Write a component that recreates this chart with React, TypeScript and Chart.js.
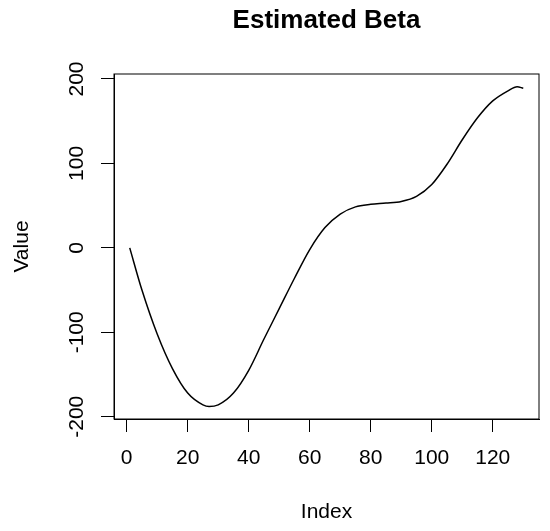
import React, { useEffect, useRef } from "react";
import { Chart, registerables } from "chart.js";

Chart.register(...registerables);

const TITLE = "Estimated Beta";
const X_LABEL = "Index";
const Y_LABEL = "Value";

const indices = [1, 5, 10, 15, 20, 25, 27, 30, 35, 40, 45, 50, 55, 60, 65, 70, 75, 80, 85, 90, 95, 100, 105, 110, 115, 120, 125, 128, 130];
const values = [0, -50, -102, -143, -172, -186, -188, -186, -172, -145, -108, -72, -36, -2, 24, 40, 48.5, 51.5, 53, 55, 61, 75, 99, 128, 154, 174, 186, 190.8, 189];

const xTicks = [0, 20, 40, 60, 80, 100, 120];
const yTicks = [-200, -100, 0, 100, 200];

const FONT = "'Liberation Sans', Arial, Helvetica, sans-serif";

export default function App() {
  const canvasRef = useRef<HTMLCanvasElement | null>(null);

  useEffect(() => {
    const canvas = canvasRef.current;
    if (!canvas) return;

    const overlay = {
      id: "rOverlay",
      afterDraw(chart: any) {
        const { ctx, chartArea } = chart;
        ctx.save();
        ctx.strokeStyle = "#000";
        ctx.lineWidth = 1;
        ctx.strokeRect(chartArea.left, chartArea.top, chartArea.right - chartArea.left, chartArea.bottom - chartArea.top);
        // title
        ctx.fillStyle = "#000";
        ctx.font = `bold 26px ${FONT}`;
        ctx.textAlign = "center";
        ctx.textBaseline = "middle";
        ctx.fillText(TITLE, (chartArea.left + chartArea.right) / 2, 21);
        // rotated y tick labels
        const ys = chart.scales.y;
        ctx.font = `21px ${FONT}`;
        for (const v of yTicks) {
          const py = ys.getPixelForValue(v);
          ctx.save();
          ctx.translate(77, py);
          ctx.rotate(-Math.PI / 2);
          ctx.fillText(String(v), 0, 0);
          ctx.restore();
        }
        ctx.restore();
      },
    };

    const chart = new Chart(canvas, {
      type: "line",
      data: {
        datasets: [
          {
            data: indices.map((x, i) => ({ x, y: values[i] })),
            borderColor: "#000",
            borderWidth: 1.5,
            pointRadius: 0,
            fill: false,
            cubicInterpolationMode: "monotone",
          },
        ],
      },
      options: {
        animation: false,
        responsive: false,
        devicePixelRatio: 1,
        layout: { padding: { top: 74, right: 11, left: 0, bottom: 0 } },
        plugins: { legend: { display: false }, tooltip: { enabled: false }, title: { display: false } },
        scales: {
          x: {
            type: "linear",
            position: "bottom",
            min: -4.16,
            max: 135.16,
            afterBuildTicks: (scale: any) => {
              scale.ticks = xTicks.map((v) => ({ value: v }));
            },
            afterFit: (scale: any) => {
              scale.height = 112;
            },
            ticks: {
              color: "#000",
              font: { family: FONT, size: 21 },
              padding: 14,
              maxRotation: 0,
              minRotation: 0,
              autoSkip: false,
            },
            grid: { display: true, drawOnChartArea: false, drawTicks: true, tickLength: 13, color: "#000", lineWidth: 1 },
            border: { display: true, color: "#000", width: 1 },
            title: { display: true, text: X_LABEL, color: "#000", font: { family: FONT, size: 21 }, padding: { top: 0, bottom: 6 } },
          },
          y: {
            type: "linear",
            min: -202.7,
            max: 205.9,
            afterBuildTicks: (scale: any) => {
              scale.ticks = yTicks.map((v) => ({ value: v }));
            },
            afterFit: (scale: any) => {
              scale.width = 114;
            },
            ticks: { color: "rgba(0,0,0,0)", font: { family: FONT, size: 21 }, autoSkip: false },
            grid: { display: true, drawOnChartArea: false, drawTicks: true, tickLength: 13, color: "#000", lineWidth: 1 },
            border: { display: true, color: "#000", width: 1 },
            title: { display: true, text: Y_LABEL, color: "#000", font: { family: FONT, size: 21 }, padding: { top: 10, bottom: 0 } },
          },
        },
      },
      plugins: [overlay],
    });

    return () => chart.destroy();
  }, []);

  return (
    <div style={{ position: "absolute", left: 0, top: 0, width: 550, height: 531, background: "#fff" }}>
      <canvas ref={canvasRef} width={550} height={531} style={{ width: 550, height: 531, display: "block" }} />
    </div>
  );
}
